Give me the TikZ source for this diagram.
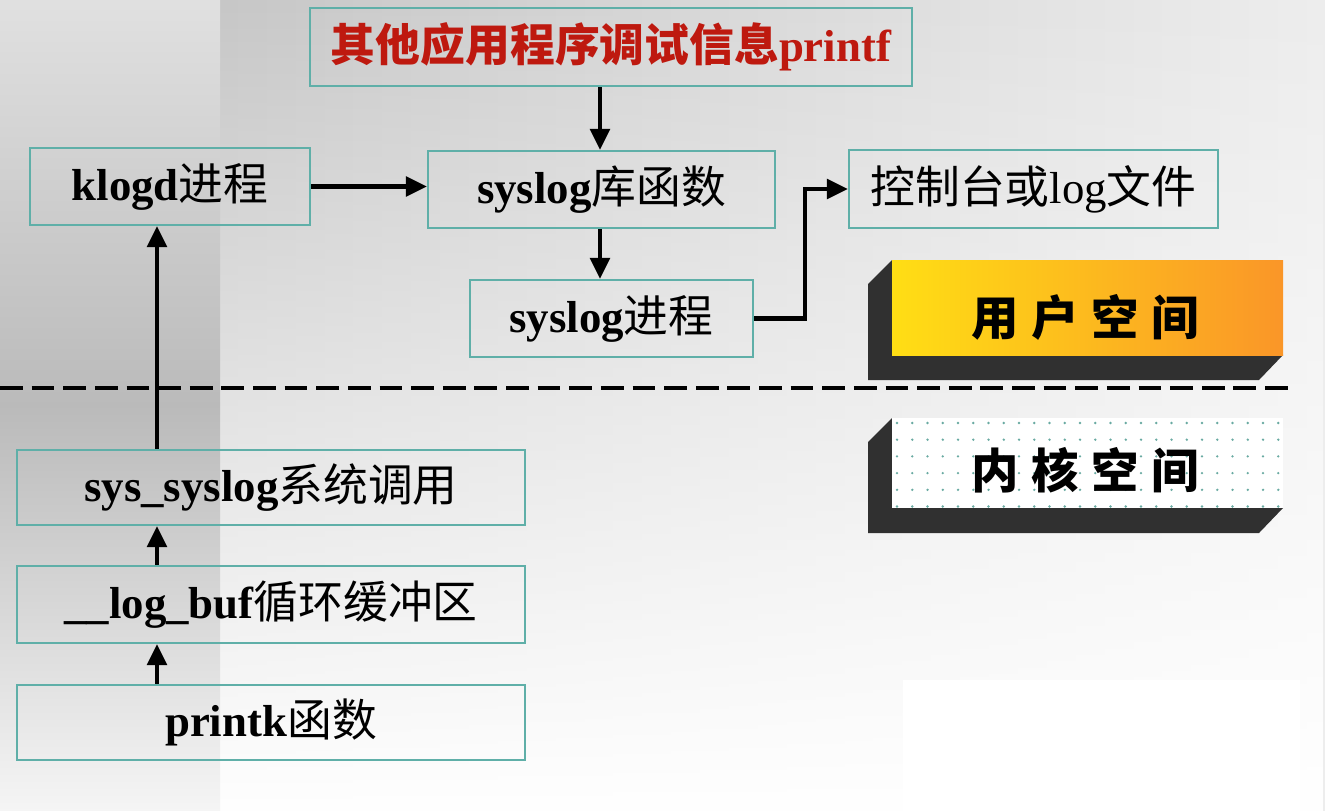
\documentclass[tikz,border=0pt]{standalone}
\usepackage{fontspec}
\setmainfont{Liberation Serif}
\newfontfamily\cjk{Noto Sans CJK SC}
\usetikzlibrary{arrows.meta,fadings}
\definecolor{boxline}{RGB}{95,175,168}
\definecolor{titlered}{RGB}{190,25,15}
\definecolor{slabdark}{RGB}{48,48,48}
\definecolor{dotteal}{RGB}{105,170,162}
\definecolor{slabyellow}{RGB}{255,222,20}
\definecolor{slaborange}{RGB}{250,150,40}
\newcommand{\zh}[1]{{\cjk\mdseries #1}}
\newcommand{\slabgap}{\hspace{0.25cm}}

\begin{document}
\begin{tikzpicture}[x=0.02cm,y=-0.02cm,
	box/.style={draw=boxline,line width=1.2pt,inner sep=0pt,font=\fontsize{25.5}{30}\selectfont\bfseries},
	flow/.style={line width=2.5pt,-{Triangle[length=12pt,width=11pt]}},
	slabtext/.style={font=\fontsize{27}{32}\selectfont\cjk\bfseries}]
	\useasboundingbox (0,0) rectangle (1325,811);

	\fill[left color=black!22,right color=black!7] (220,0) rectangle (1325,811);
	\fill[white,path fading=north] (220,0) rectangle (1325,811);
	\fill[top color=black!12,bottom color=black!4,middle color=black!27] (0,0) rectangle (220,811);
	\fill[white] (903,680) rectangle (1300,811);

	\node[box,text=titlered,minimum width=12.04cm,minimum height=1.56cm] (title) at (611,47) {\zh{\bfseries 其他应用程序调试信息}printf};
	\node[box,minimum width=5.6cm,minimum height=1.54cm] (klogd) at (170,186.5) {klogd\zh{进程}};
	\node[box,minimum width=6.94cm,minimum height=1.54cm] (libfn) at (601.5,189.5) {syslog\zh{库函数}};
	\node[box,minimum width=5.66cm,minimum height=1.54cm] (syslogd) at (611.5,318.5) {syslog\zh{进程}};
	\node[box,font=\fontsize{25.5}{30}\selectfont,minimum width=7.38cm,minimum height=1.56cm] (console) at (1033.5,189) {\zh{控制台或}log\zh{文件}};
	\node[box,minimum width=10.16cm,minimum height=1.5cm] (syscall) at (271,487.5) {sys\_syslog\zh{系统调用}};
	\node[box,minimum width=10.16cm,minimum height=1.54cm] (logbuf) at (271,604.5) {\_\_log\_buf\zh{循环缓冲区}};
	\node[box,minimum width=10.16cm,minimum height=1.5cm] (printk) at (271,722.5) {printk\zh{函数}};

	\coordinate (downline) at (600,0);
	\coordinate (spine) at (157,0);
	\coordinate (bend) at (805,250);

	\draw[flow] (downline |- title.south) -- (downline |- libfn.north);
	\draw[flow] (downline |- libfn.south) -- (downline |- syslogd.north);
	\draw[flow] (klogd.east) -- (klogd.east -| libfn.west);
	\draw[flow] (syslogd.east) -| (bend) |- (console.west);
	\draw[flow] (spine |- syscall.north) -- (spine |- klogd.south);
	\draw[flow] (spine |- logbuf.north) -- (spine |- syscall.south);
	\draw[flow] (spine |- printk.north) -- (spine |- logbuf.south);

	\draw[line width=2pt,dash pattern=on 13pt off 5pt] (0,388) -- (1290,388);

	\fill[slabdark] (892,260) -- (868,284) -- (868,380) -- (1259,380) -- (1283,355) -- cycle;
	\fill[left color=slabyellow,right color=slaborange] (892,260) rectangle (1283,355);
	\node[slabtext] (user) at (1085,317) {用\slabgap 户\slabgap 空\slabgap 间};

	\fill[slabdark] (892,418) -- (868,442) -- (868,533) -- (1259,533) -- (1283,508) -- cycle;
	\fill[white] (892,418) rectangle (1283,508);
	\foreach \c in {0,...,25}
		\foreach \r in {0,...,5}
			\fill[dotteal] (897+\c*15.25,423+\r*16.7) circle (1.3);
	\node[slabtext] (kernel) at (1085,470) {内\slabgap 核\slabgap 空\slabgap 间};
\end{tikzpicture}
\end{document}
